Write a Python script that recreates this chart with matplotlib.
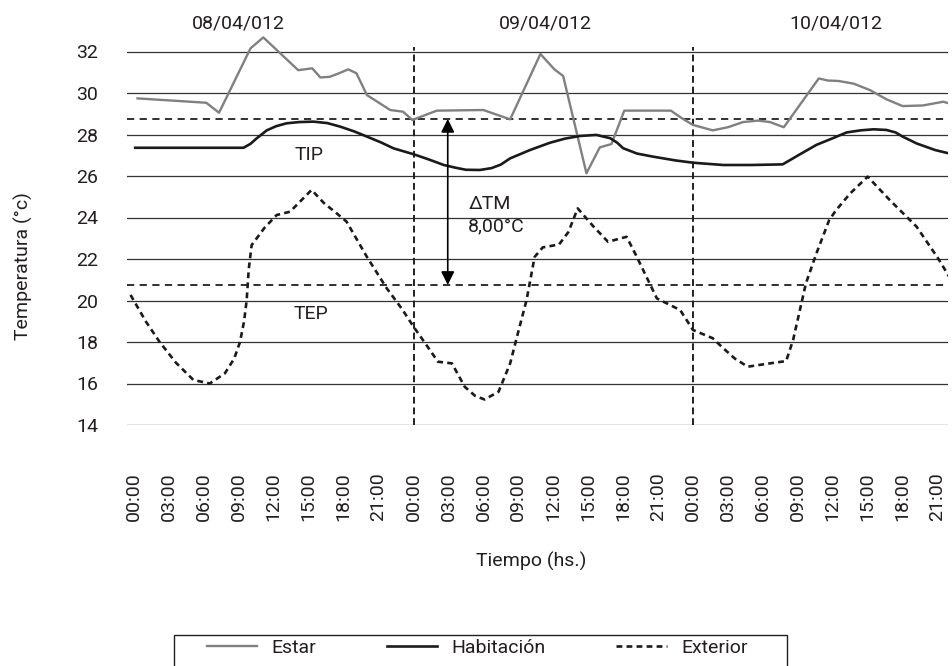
import matplotlib
matplotlib.use("Agg")
import matplotlib.pyplot as plt
from matplotlib.patches import Rectangle

plt.rcParams['font.family'] = ['Roboto', 'DejaVu Sans']
TXT = '#231f20'

# hours counted from 08/04 00:00, temperatures in degC
estar_h = [0.3, 6.2, 7.3, 10.0, 11.1, 14.1, 15.3, 16.0, 16.8, 17.6, 18.4, 19.1, 20.0,
           22.0, 23.1, 23.9, 26.0, 30.0, 32.3, 34.9, 36.1, 36.85, 38.85, 40.0, 41.0,
           42.1, 46.1, 47.0, 48.0, 49.7, 51.0, 52.3, 53.6, 54.6, 55.8, 58.8, 59.6,
           60.5, 61.8, 63.2, 64.6, 66.0, 67.75, 69.5, 70.2]
estar_t = [29.74, 29.53, 29.05, 32.15, 32.68, 31.1, 31.19, 30.75, 30.78, 30.95, 31.14,
           30.95, 29.9, 29.18, 29.1, 28.7, 29.15, 29.18, 28.73, 31.88, 31.14, 30.82,
           26.13, 27.38, 27.54, 29.15, 29.15, 28.8, 28.46, 28.2, 28.35, 28.6, 28.67,
           28.6, 28.35, 30.7, 30.6, 30.58, 30.45, 30.14, 29.7, 29.37, 29.4, 29.58, 29.46]

hab_h = [0.1, 9.4, 10.0, 10.5, 11.4, 12.2, 13.1, 14.2, 15.4, 16.6, 17.7, 18.9, 20.0,
         21.2, 22.3, 24.0, 25.3, 26.6, 27.6, 28.5, 29.7, 30.7, 31.5, 32.3, 34.0, 35.7,
         37.0, 38.3, 39.7, 40.9, 41.5, 42.0, 43.2, 44.6, 46.5, 48.0, 50.6, 53.0, 55.7,
         57.2, 58.6, 60.0, 61.2, 62.4, 63.5, 64.6, 65.4, 66.0, 67.2, 68.8, 70.2]
hab_t = [27.36, 27.36, 27.55, 27.8, 28.2, 28.4, 28.54, 28.6, 28.62, 28.55, 28.38, 28.15,
         27.9, 27.62, 27.33, 27.05, 26.8, 26.53, 26.4, 26.3, 26.29, 26.38, 26.55, 26.85,
         27.25, 27.6, 27.8, 27.93, 27.98, 27.82, 27.6, 27.34, 27.08, 26.93, 26.75, 26.64,
         26.53, 26.53, 26.56, 27.05, 27.5, 27.82, 28.1, 28.2, 28.25, 28.22, 28.1, 27.9,
         27.57, 27.25, 27.06]

ext_h = [-0.3, 1.0, 2.2, 3.6, 5.1, 6.5, 7.8, 8.6, 9.1, 9.45, 9.67, 9.85, 10.1, 11.2,
         12.25, 13.4, 15.25, 16.3, 17.4, 18.25, 20.0, 21.7, 23.0, 24.0, 25.1, 26.1,
         27.3, 28.4, 29.3, 30.1, 31.3, 32.3, 33.0, 33.7, 34.4, 35.1, 36.5, 37.3, 38.1,
         39.4, 40.7, 42.3, 43.1, 44.9, 46.9, 48.0, 49.7, 50.6, 51.6, 52.7, 54.6, 56.0,
         56.6, 57.7, 58.6, 59.7, 60.3, 61.5, 63.0, 64.9, 67.2, 69.05, 70.0]
ext_t = [20.27, 19.0, 18.0, 17.0, 16.17, 16.0, 16.49, 17.2, 18.0, 19.0, 20.0, 21.5,
         22.67, 23.5, 24.12, 24.28, 25.33, 24.7, 24.2, 23.8, 22.1, 20.59, 19.6, 18.74,
         17.86, 17.05, 16.97, 15.84, 15.4, 15.23, 15.6, 16.97, 18.5, 20.0, 22.1, 22.56,
         22.7, 23.3, 24.44, 23.6, 22.83, 23.07, 22.19, 20.1, 19.54, 18.58, 18.18, 17.7,
         17.2, 16.81, 16.97, 17.08, 18.1, 20.83, 22.27, 23.88, 24.36, 25.16, 25.97,
         24.84, 23.56, 22.03, 21.15]

TIP = 28.75
TEP = 20.75
days = ['08/04/012', '09/04/012', '10/04/012']
day_x = [9.0, 35.3, 60.3]
midnights = [24, 48]
tick_h = list(range(0, 72, 3))
tick_lbl = [f"{h % 24:02d}:00" for h in tick_h]
yticks = list(range(14, 33, 2))

fig = plt.figure(figsize=(9.52, 6.66), dpi=100)
ax = fig.add_axes([126.7 / 952, 1 - 425 / 666, (948 - 126.7) / 952, (425 - 30.75) / 666])
ax.set_xlim(-0.63, 69.9)
ax.set_ylim(14, 33)
for s in ax.spines.values():
    s.set_visible(False)

for y in yticks:
    ax.axhline(y, color='#333333', lw=0.9, zorder=1)
ax.axhline(TIP, color='#231f20', lw=1.3, ls=(0, (4, 3)), zorder=2)
ax.axhline(TEP, color='#231f20', lw=1.3, ls=(0, (4, 3)), zorder=2)
ax.vlines(midnights, 14, 32.2, color='#231f20', lw=1.4, ls=(0, (3.5, 2)), zorder=2)

l1, = ax.plot(estar_h, estar_t, color='#808080', lw=1.7, label='Estar', zorder=4)
l2, = ax.plot(hab_h, hab_t, color='#1a1a1a', lw=1.9, label='Habitación', zorder=4)
l3, = ax.plot(ext_h, ext_t, color='#1a1a1a', lw=1.9, ls=(0, (2.2, 1.6)),
              label='Exterior', zorder=4)

# thermal amplitude arrow between the two reference lines
ax.annotate('', xy=(26.94, TIP), xytext=(26.94, TEP),
            arrowprops=dict(arrowstyle='<|-|>', color='black', lw=1.2,
                            mutation_scale=20, shrinkA=0, shrinkB=0), zorder=5)
dtm = f"{TIP - TEP:.2f}".replace('.', ',')
ax.text(28.7, 24.1, f"ΔTM\n{dtm}°C", ha='left', va='center', fontsize=14,
        color=TXT, linespacing=1.3)
ax.text(15.0, 27.0, 'TIP', ha='center', va='center', fontsize=14, color=TXT)
ax.text(15.17, 19.35, 'TEP', ha='center', va='center', fontsize=14, color=TXT)

for x, d in zip(day_x, days):
    ax.text(x, 33.37, d, ha='center', va='center', fontsize=14, color=TXT, clip_on=False)

ax.set_xticks(tick_h)
ax.set_xticklabels(tick_lbl, rotation=90, va='top')
ax.set_yticks(yticks)
ax.tick_params(axis='x', length=0, pad=34, labelsize=14, labelcolor=TXT)
ax.tick_params(axis='y', length=0, pad=20.5, labelsize=14, labelcolor=TXT)

fig.text(23.5 / 952, 1 - 266 / 666, 'Temperatura (°c)', rotation=90, ha='center',
         va='center', fontsize=14, color=TXT)
fig.text(531 / 952, 1 - 561 / 666, 'Tiempo (hs.)', ha='center', va='center',
         fontsize=14, color=TXT)

fig.legend(handles=[l1, l2, l3], loc='center left', bbox_to_anchor=(197 / 952, 1 - 648 / 666),
           ncol=3, frameon=False, borderpad=0, handlelength=2.6, handletextpad=0.75,
           columnspacing=3.6, fontsize=14, labelcolor=TXT)
fig.add_artist(Rectangle((174 / 952, -0.05), (787 - 174) / 952, 0.05 + 31 / 666,
                         transform=fig.transFigure, fill=False, edgecolor=TXT, lw=1))

fig.savefig('out.png', dpi=100)
